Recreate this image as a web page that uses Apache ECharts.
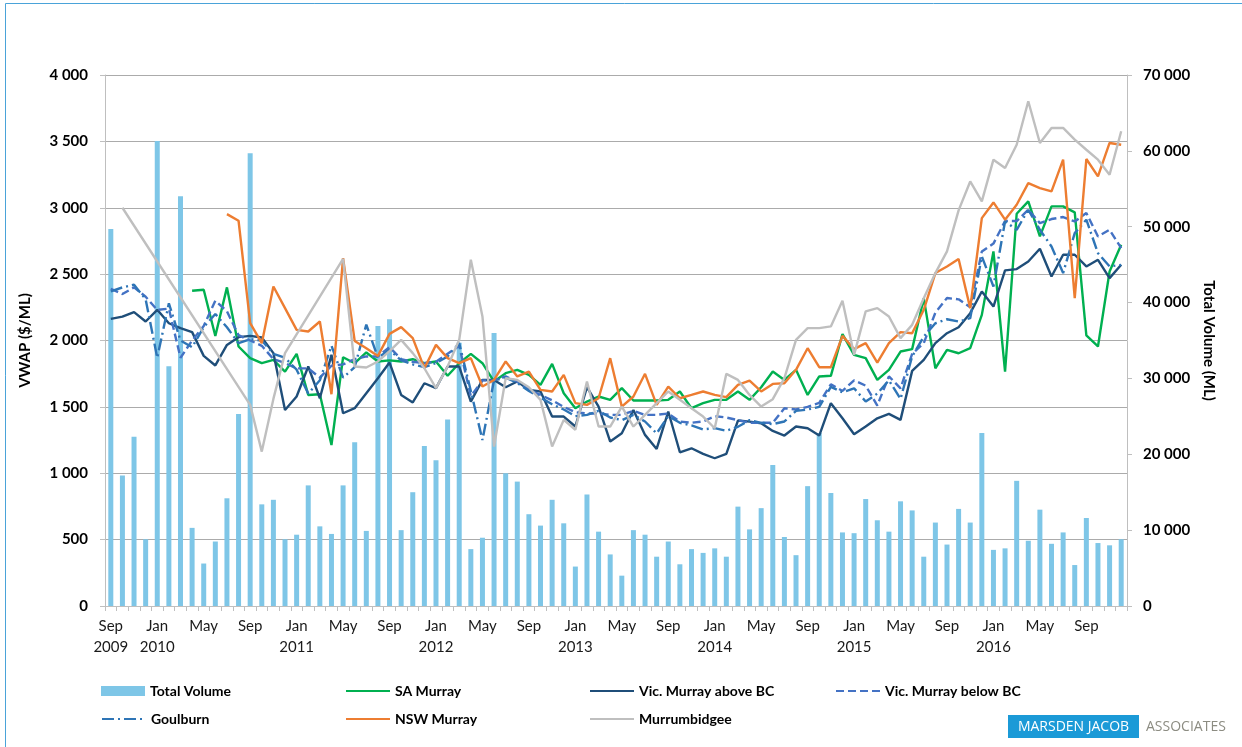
<!DOCTYPE html>
<html>
<head>
<meta charset="utf-8">
<script src="https://cdn.jsdelivr.net/npm/echarts@6/dist/echarts.min.js"></script>
<style>
  html, body { margin: 0; padding: 0; background: #fff; }
  #chart { width: 1242px; height: 747px; }
</style>
</head>
<body>
<div id="chart"></div>
<script>
// months Sep 2009 .. Dec 2016
var monthNames = ['Jan','Feb','Mar','Apr','May','Jun','Jul','Aug','Sep','Oct','Nov','Dec'];
var categories = [];
for (var k = 0; k < 88; k++) {
  var m = (8 + k) % 12;
  var yr = 2009 + Math.floor((8 + k) / 12);
  categories.push(monthNames[m] + ' ' + yr);
}

var totalVolume = [
  49700, 17200, 22300, 8800, 61300, 31600, 54000, 10300, 5600, 8500, 14200, 25300,
  59700, 13400, 14000, 8800, 9400, 15900, 10500, 9500, 15900, 21600, 9900, 36900,
  37800, 10000, 15000, 21100, 19200, 24600, 34700, 7500, 9000, 36000, 17500, 16400,
  12100, 10600, 14000, 10900, 5200, 14700, 9800, 6800, 4000, 10000, 9400, 6500,
  8500, 5500, 7500, 7000, 7600, 6500, 13100, 10100, 12900, 18600, 9100, 6700,
  15800, 22800, 14900, 9700, 9600, 14100, 11300, 9800, 13800, 12600, 6500, 11000,
  8100, 12800, 11000, 22800, 7400, 7600, 16500, 8600, 12700, 8200, 9700, 5400,
  11600, 8300, 8000, 8800
];

var saMurray = [
  null, null, null, null, null, null, null, 2375, 2382, 2034, 2400, 1955,
  1867, 1829, 1854, 1766, 1899, 1590, 1595, 1213, 1874, 1829, 1910, 1842,
  1850, 1842, 1859, 1829, 1842, 1734, 1829, 1899, 1829, 1691, 1754, 1779,
  1741, 1666, 1824, 1603, 1490, 1540, 1578, 1553, 1641, 1548, 1548, 1548,
  1553, 1616, 1490, 1528, 1553, 1553, 1616, 1553, 1648, 1766, 1703, 1779,
  1590, 1729, 1734, 2048, 1892, 1867, 1703, 1779, 1917, 1935, 2319, 1791,
  1930, 1904, 1942, 2193, 2671, 1766, 2955, 3048, 2784, 3010, 3010, 2965,
  2038, 1955, 2520, 2721
];

var vicAbove = [
  2163, 2180, 2214, 2143, 2231, 2130, 2093, 2063, 1884, 1812, 1967, 2025,
  2035, 2023, 1905, 1477, 1578, 1804, 1565, 1892, 1452, 1490, 1603, 1716,
  1834, 1590, 1533, 1678, 1641, 1804, 1804, 1540, 1703, 1703, 1648, 1691,
  1628, 1616, 1427, 1427, 1352, 1648, 1502, 1239, 1301, 1477, 1289, 1183,
  1465, 1158, 1188, 1146, 1113, 1146, 1397, 1389, 1377, 1319, 1284, 1352,
  1339, 1284, 1528, 1414, 1294, 1352, 1414, 1447, 1402, 1771, 1854, 1980,
  2055, 2100, 2206, 2369, 2256, 2528, 2538, 2595, 2691, 2482, 2646, 2646,
  2558, 2608, 2470, 2570
];

var vicBelow = [
  2390, 2350, 2400, 2330, 2230, 2240, 1870, 2000, 2110, 2300, 2220, 2040,
  2000, 1960, 1860, 1830, 1790, 1790, 1720, 1810, 1820, 1860, 1880, 1880,
  1950, 1860, 1840, 1830, 1840, 1900, 1960, 1580, 1700, 1700, 1730, 1690,
  1630, 1590, 1550, 1500, 1460, 1450, 1450, 1440, 1440, 1470, 1440, 1440,
  1450, 1390, 1380, 1390, 1430, 1420, 1400, 1380, 1380, 1380, 1490, 1480,
  1500, 1530, 1670, 1620, 1700, 1660, 1510, 1730, 1640, 1900, 1980, 2210,
  2320, 2310, 2250, 2670, 2730, 2900, 2900, 2985, 2884, 2915, 2930, 2897,
  2960, 2784, 2834, 2696
];

var goulburn = [
  2370, 2400, 2420, 2310, 1870, 2280, 2000, 1950, 2100, 2200, 2100, 1980,
  2010, 2000, 1900, 1870, 1780, 1600, 1700, 1960, 1720, 1800, 2120, 1870,
  1930, 1850, 1820, 1800, 1830, 1880, 1980, 1620, 1250, 1700, 1720, 1680,
  1620, 1570, 1520, 1480, 1430, 1440, 1470, 1420, 1400, 1440, 1390, 1300,
  1430, 1380, 1360, 1330, 1340, 1320, 1350, 1400, 1380, 1370, 1390, 1470,
  1480, 1500, 1650, 1610, 1640, 1540, 1600, 1700, 1560, 1880, 2030, 2130,
  2160, 2143, 2168, 2633, 2407, 2897, 2834, 2985, 2834, 2708, 2508, 2809,
  2910, 2658, 2558, 2570
];

var nswMurray = [
  null, null, null, null, null, null, null, null, null, null, 2952, 2902,
  2131, 1980, 2407, 2244, 2080, 2068, 2143, 1595, 2621, 1997, 1942, 1884,
  2050, 2101, 2018, 1791, 1967, 1867, 1829, 1867, 1653, 1703, 1842, 1729,
  1766, 1628, 1616, 1741, 1528, 1515, 1565, 1867, 1502, 1578, 1749, 1515,
  1653, 1565, 1590, 1616, 1590, 1573, 1666, 1698, 1616, 1673, 1678, 1779,
  1942, 1799, 1799, 2035, 1935, 1980, 1834, 1980, 2063, 2055, 2231, 2508,
  2558, 2614, 2244, 2922, 3040, 2910, 3023, 3186, 3148, 3123, 3362, 2319,
  3367, 3236, 3488, 3475
];

var murrumbidgee = [
  null, 3000, null, null, null, null, null, null, null, null, null, null,
  1515, 1163, 1560, 1905, null, null, null, null, 2614, 1804, 1797, 1842,
  1920, 2005, 1905, 1791, 1641, 1804, 2005, 2608, 2181, 1201, 1716, 1703,
  1648, 1553, 1201, 1402, 1327, 1691, 1352, 1352, 1502, 1352, 1440, 1528,
  1616, 1553, 1490, 1427, 1339, 1749, 1703, 1590, 1502, 1558, 1716, 2005,
  2093, 2093, 2106, 2300, 1892, 2219, 2244, 2181, 2018, 2118, 2319, 2508,
  2671, 2980, 3198, 3048, 3362, 3299, 3475, 3802, 3488, 3601, 3601, 3513,
  3437, 3362, 3249, 3576
];

var leftTicks = { min: 0, max: 4000, interval: 500 };
var rightTicks = { min: 0, max: 70000, interval: 10000 };

function spaced(v) {
  return String(v).replace(/\B(?=(\d{3})+(?!\d))/g, ' ');
}

var FONT = 'Lato';
var chart = echarts.init(document.getElementById('chart'));

function lineSeries(name, data, color, type, z) {
  return {
    name: name,
    type: 'line',
    yAxisIndex: 0,
    data: data,
    symbol: 'none',
    connectNulls: true,
    z: z,
    lineStyle: { color: color, width: 2.4, type: type },
    itemStyle: { color: color },
    emphasis: { disabled: true }
  };
}

function oneLegend(name, left, top) {
  var isBar = name === 'Total Volume';
  var lg = {
    data: [name],
    left: left,
    top: top,
    itemWidth: 44,
    itemHeight: 10,
    selectedMode: false,
    textStyle: { fontFamily: FONT, fontWeight: 'bold', fontSize: 14, color: '#000' }
  };
  if (isBar) {
    lg.icon = 'rect';
  } else {
    // hide the symbol dot, keep only the line
    lg.itemStyle = { opacity: 0 };
  }
  return lg;
}

var option = {
  animation: false,
  backgroundColor: '#fff',
  grid: { left: 105, right: 115, top: 75, bottom: 141, containLabel: false },
  legend: [
    oneLegend('Total Volume', 96, 679),
    oneLegend('SA Murray', 340, 679),
    oneLegend('Vic. Murray above BC', 584, 679),
    oneLegend('Vic. Murray below BC', 830, 679),
    oneLegend('Goulburn', 96, 707),
    oneLegend('NSW Murray', 340, 707),
    oneLegend('Murrumbidgee', 584, 707)
  ],
  xAxis: {
    type: 'category',
    data: categories,
    boundaryGap: true,
    axisLine: { show: true, lineStyle: { color: '#bfbfbf', width: 1 } },
    axisTick: { show: true, interval: 0, length: 5, lineStyle: { color: '#bfbfbf' } },
    axisLabel: {
      interval: 3,
      margin: 10,
      fontFamily: FONT,
      fontSize: 15,
      lineHeight: 21,
      color: '#1a1a1a',
      formatter: function (v, i) {
        var p = v.split(' ');
        if (i === 0 || p[0] === 'Jan') return p[0] + '\n' + p[1];
        return p[0];
      }
    },
    splitLine: { show: false }
  },
  yAxis: [
    {
      type: 'value',
      position: 'left',
      min: leftTicks.min,
      max: leftTicks.max,
      interval: leftTicks.interval,
      name: 'VWAP ($/ML)',
      nameLocation: 'middle',
      nameGap: 72,
      nameTextStyle: { fontFamily: FONT, fontWeight: 'bold', fontSize: 15, color: '#000' },
      axisLine: { show: true, lineStyle: { color: '#bfbfbf' } },
      axisTick: { show: true, length: 5, lineStyle: { color: '#bfbfbf' } },
      axisLabel: {
        margin: 17,
        fontFamily: FONT, fontWeight: 'bold', fontSize: 15, color: '#000',
        formatter: spaced
      },
      splitLine: { show: true, lineStyle: { color: '#ababab', width: 1 } }
    },
    {
      type: 'value',
      position: 'right',
      min: rightTicks.min,
      max: rightTicks.max,
      interval: rightTicks.interval,
      name: 'Total Volume (ML)',
      nameLocation: 'middle',
      nameRotate: -90,
      nameGap: 72,
      nameTextStyle: { fontFamily: FONT, fontWeight: 'bold', fontSize: 15, color: '#000' },
      axisLine: { show: true, lineStyle: { color: '#bfbfbf' } },
      axisTick: { show: true, length: 5, lineStyle: { color: '#bfbfbf' } },
      axisLabel: {
        margin: 16,
        fontFamily: FONT, fontWeight: 'bold', fontSize: 15, color: '#000',
        formatter: spaced
      },
      splitLine: { show: false }
    }
  ],
  series: [
    {
      name: 'Total Volume',
      type: 'bar',
      yAxisIndex: 1,
      data: totalVolume,
      barWidth: 5,
      z: 1,
      itemStyle: { color: '#7ec6e7' },
      emphasis: { disabled: true }
    },
    lineSeries('SA Murray', saMurray, '#00b050', 'solid', 3),
    lineSeries('Vic. Murray above BC', vicAbove, '#1f4e79', 'solid', 4),
    lineSeries('Vic. Murray below BC', vicBelow, '#4472c4', [8, 4], 5),
    lineSeries('Goulburn', goulburn, '#2e75b6', [12, 4, 2, 4], 6),
    lineSeries('NSW Murray', nswMurray, '#ed7d31', 'solid', 7),
    lineSeries('Murrumbidgee', murrumbidgee, '#bfbfbf', 'solid', 8)
  ],
  graphic: [
    {
      type: 'rect',
      shape: { x: 5.5, y: 3.5, width: 1300, height: 800 },
      style: { fill: 'none', stroke: '#4aa3d9', lineWidth: 1 },
      silent: true
    },
    {
      type: 'rect',
      shape: { x: 1008, y: 715, width: 131, height: 23 },
      style: { fill: '#1b9ad7' },
      silent: true
    },
    {
      type: 'text',
      x: 1073.5, y: 727,
      style: {
        text: 'MARSDEN JACOB', fill: '#fff', font: '14px "Open Sans"',
        align: 'center', verticalAlign: 'middle'
      },
      silent: true
    },
    {
      type: 'text',
      x: 1146, y: 727,
      style: {
        text: 'ASSOCIATES', fill: '#8c8c82', font: '14px "Open Sans"',
        align: 'left', verticalAlign: 'middle'
      },
      silent: true
    }
  ]
};

chart.setOption(option);
</script>
</body>
</html>
